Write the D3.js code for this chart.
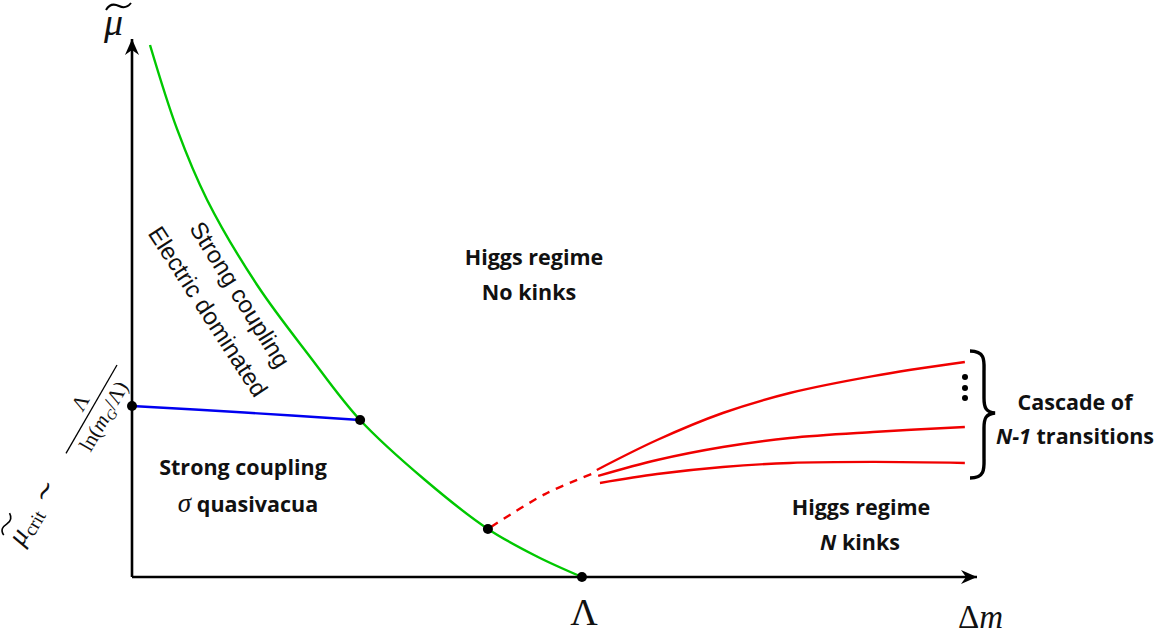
<!DOCTYPE html>
<html>
<head>
<meta charset="utf-8">
<script src="https://cdn.jsdelivr.net/npm/d3@7"></script>
<style>
  html, body { margin: 0; padding: 0; background: #fff; }
  svg { display: block; }
  .lab { font-family: "Open Sans", "DejaVu Sans", sans-serif; font-weight: 700; fill: #111; }
  .rot { font-family: "Liberation Sans", Arial, sans-serif; fill: #111; }
  .math { font-family: "Liberation Serif", "DejaVu Serif", serif; fill: #111; }
</style>
</head>
<body>
<svg id="chart" width="1167" height="636"></svg>
<script>
// ---- data (Λ = 1 on the Δm axis, μ_crit = 1 on the μ axis) ----
const greenX = [0.040, 0.100, 0.167, 0.280, 0.396, 0.507, 0.650, 0.791, 0.900, 1.000];
const greenY = [3.111, 2.620, 2.205, 1.700, 1.287, 0.918, 0.570, 0.281, 0.120, 0.000];

const blueX = [0.000, 0.250, 0.507];
const blueY = [1.000, 0.962, 0.918];

const dashX = [0.791, 0.918, 1.027];
const dashY = [0.281, 0.485, 0.608];

const red1X = [1.033, 1.167, 1.313, 1.462, 1.647, 1.851];
const red1Y = [0.626, 0.801, 0.959, 1.076, 1.175, 1.257];
const red2X = [1.036, 1.167, 1.313, 1.462, 1.647, 1.851];
const red2Y = [0.591, 0.684, 0.760, 0.813, 0.848, 0.877];
const red3X = [1.040, 1.167, 1.313, 1.462, 1.647, 1.851];
const red3Y = [0.550, 0.602, 0.643, 0.667, 0.673, 0.667];

const dotX = [0.000, 0.507, 0.791, 1.000];
const dotY = [1.000, 0.918, 0.281, 0.000];

const regionLabels = [
  ["Higgs regime", "No kinks"],
  ["Strong coupling", "σ quasivacua"],
  ["Higgs regime", "N kinks"],
  ["Cascade of", "N-1 transitions"]
];
const rotLabels = ["Strong coupling", "Electric dominated"];
const axisLabels = { x: "Δm", lambda: "Λ", y: "μ" };

// ---- scales ----
const x = d3.scaleLinear().domain([0, 1.878]).range([132, 977]);
const y = d3.scaleLinear().domain([0, 3.146]).range([577, 39]);

const svg = d3.select("#chart");

// arrow marker
const defs = svg.append("defs");
defs.append("marker")
  .attr("id", "arrow").attr("markerUnits", "userSpaceOnUse")
  .attr("viewBox", "-16 -8 18 16").attr("refX", 0).attr("refY", 0)
  .attr("markerWidth", 18).attr("markerHeight", 16).attr("orient", "auto")
  .append("path").attr("d", "M0,0 L-16,-7 L-11,0 L-16,7 Z").attr("fill", "#000");

// axes
const gx = svg.append("g").attr("transform", `translate(0,${y(0)})`)
  .call(d3.axisBottom(x).tickValues([]).tickSizeOuter(0));
gx.select(".domain").attr("stroke", "#000").attr("stroke-width", 2.6).attr("d", `M${x(0)},0H${x(1.878)}`)
  .attr("marker-end", "url(#arrow)");
const gy = svg.append("g").attr("transform", `translate(${x(0)},0)`)
  .call(d3.axisLeft(y).tickValues([]).tickSizeOuter(0));
gy.select(".domain").attr("stroke", "#000").attr("stroke-width", 2.6).attr("d", `M0,${y(0)}V${y(3.146)}`)
  .attr("marker-end", "url(#arrow)");

const line = d3.line().x(d => x(d[0])).y(d => y(d[1])).curve(d3.curveCatmullRom.alpha(0.5));
const zip = (a, b) => a.map((v, i) => [v, b[i]]);

svg.append("path").attr("d", line(zip(greenX, greenY)))
  .attr("fill", "none").attr("stroke", "#00c800").attr("stroke-width", 2.4);
svg.append("path").attr("d", line(zip(blueX, blueY)))
  .attr("fill", "none").attr("stroke", "#0000f0").attr("stroke-width", 2.4);
svg.append("path").attr("d", line(zip(dashX, dashY)))
  .attr("fill", "none").attr("stroke", "#f00000").attr("stroke-width", 2.4)
  .attr("stroke-dasharray", "8,7").attr("stroke-dashoffset", -4);
[[red1X, red1Y], [red2X, red2Y], [red3X, red3Y]].forEach(([a, b]) => {
  svg.append("path").attr("d", line(zip(a, b)))
    .attr("fill", "none").attr("stroke", "#f00000").attr("stroke-width", 2.4);
});

svg.selectAll("circle.pt").data(zip(dotX, dotY)).join("circle")
  .attr("class", "pt").attr("cx", d => x(d[0])).attr("cy", d => y(d[1])).attr("r", 5).attr("fill", "#000");

// vertical dots (⋮)
[377, 388, 398].forEach(cy => svg.append("circle").attr("cx", 965).attr("cy", cy).attr("r", 3).attr("fill", "#000"));

// brace
svg.append("path")
  .attr("d", "M970,351 C986,351 984,362 984,372 L984,398 C984,408 986,412 995,413 C986,414 984,418 984,428 L984,457 C984,467 986,478 970,478")
  .attr("fill", "none").attr("stroke", "#000").attr("stroke-width", 3.4);

// region labels
const labPos = [
  [534, 265, 529, 300],
  [243, 475, 248, 512],
  [861, 515, 860, 550],
  [1075, 410, 1075, 444]
];
regionLabels.forEach((pair, i) => {
  const p = labPos[i];
  svg.append("text").attr("class", "lab").attr("x", p[0]).attr("y", p[1])
    .attr("text-anchor", "middle").attr("font-size", 21.5).text(pair[0]);
  const t2 = svg.append("text").attr("class", "lab").attr("x", p[2]).attr("y", p[3])
    .attr("text-anchor", "middle").attr("font-size", 21.5);
  if (pair[1].startsWith("σ")) {
    t2.append("tspan").attr("font-family", "Liberation Serif").attr("font-style", "italic").attr("font-weight", 400).attr("font-size", 27).text("σ");
    t2.append("tspan").text(pair[1].slice(1));
  } else if (pair[1].startsWith("N-1")) {
    t2.append("tspan").attr("font-style", "italic").text("N-1");
    t2.append("tspan").text(pair[1].slice(3));
  } else if (pair[1].startsWith("N ")) {
    t2.append("tspan").attr("font-style", "italic").text("N");
    t2.append("tspan").text(pair[1].slice(1));
  } else {
    t2.text(pair[1]);
  }
});

// rotated labels along the green curve
svg.append("text").attr("class", "rot").attr("font-size", 24).attr("text-anchor", "middle")
  .attr("transform", "translate(233,299) rotate(58)").text(rotLabels[0]);
svg.append("text").attr("class", "rot").attr("font-size", 24).attr("text-anchor", "middle")
  .attr("transform", "translate(201,316) rotate(57)").text(rotLabels[1]);

// axis labels
svg.append("text").attr("class", "math").attr("x", 584).attr("y", 625).attr("text-anchor", "middle")
  .attr("font-size", 38).text(axisLabels.lambda);
const dm = svg.append("text").attr("class", "math").attr("x", 958).attr("y", 628).attr("font-size", 33);
dm.append("tspan").text("Δ");
dm.append("tspan").attr("font-style", "italic").text("m");

svg.append("text").attr("class", "math").attr("x", 104).attr("y", 35).attr("font-size", 38)
  .attr("font-style", "italic").text(axisLabels.y);
svg.append("path").attr("d", "M106,10 C110,3 115,4 119,6 C123,8 127,8 131,3")
  .attr("fill", "none").attr("stroke", "#000").attr("stroke-width", 2);

// rotated μ_crit label
const g = svg.append("g").attr("transform", "translate(91,410) rotate(-60)");
g.append("line").attr("x1", -50).attr("x2", 52).attr("y1", 0).attr("y2", 0)
  .attr("stroke", "#000").attr("stroke-width", 1.3);
g.append("text").attr("class", "math").attr("x", 1).attr("y", -6)
  .attr("text-anchor", "middle").attr("font-size", 21).text("Λ");
const den = g.append("text").attr("class", "math").attr("x", 1).attr("y", 21)
  .attr("text-anchor", "middle").attr("font-size", 21);
den.append("tspan").text("ln(");
den.append("tspan").attr("font-style", "italic").text("m");
den.append("tspan").attr("font-style", "italic").attr("font-size", 14).attr("dy", 4).text("G");
den.append("tspan").attr("dy", -4).text("/Λ)");
const lt = g.append("text").attr("class", "math").attr("x", -153).attr("y", 9).attr("font-size", 28);
lt.append("tspan").attr("font-style", "italic").text("μ");
lt.append("tspan").attr("font-size", 19).attr("dy", 5).text("crit");
lt.append("tspan").attr("font-size", 27).attr("dy", -5).attr("dx", 9).text("∼");
g.append("path").attr("d", "M-152,-13 C-149,-19 -145,-18 -141,-16 C-137,-14 -133,-14 -130,-19")
  .attr("fill", "none").attr("stroke", "#000").attr("stroke-width", 1.6);
</script>
</body>
</html>
